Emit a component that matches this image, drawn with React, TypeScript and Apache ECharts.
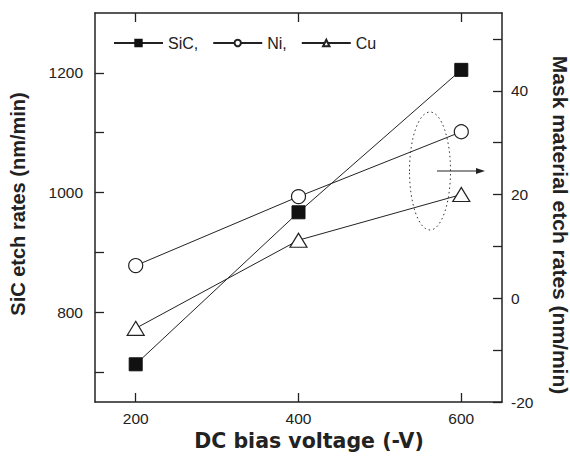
import React, { useEffect, useRef } from "react";
import * as echarts from "echarts";

const biasVoltages = [200, 400, 600];
const sicRates = [713, 967, 1205];
const niRates = [6.3, 19.6, 32.1];
const cuRates = [-5.8, 11.2, 20.0];

const xTicks = [200, 400, 600];
const leftTicks = [700, 800, 900, 1000, 1100, 1200];
const leftLabels = [800, 1000, 1200];
const rightTicks = [-20, -10, 0, 10, 20, 30, 40, 50];
const rightLabels = [-20, 0, 20, 40];

const xTitle = "DC bias voltage (-V)";
const leftTitle = "SiC etch rates (nm/min)";
const rightTitle = "Mask material etch rates (nm/min)";

const FONT = "'Liberation Sans', Arial, Helvetica, sans-serif";
const INK = "#222";

export default function App() {
  const ref = useRef<HTMLDivElement>(null);
  useEffect(() => {
    if (!ref.current) return;
    const chart = echarts.init(ref.current, undefined, { renderer: "svg" });
    const axisLine = { show: true, onZero: false, lineStyle: { color: INK, width: 1.5 } };
    const tick = (vals: number[]) => ({
      show: true,
      inside: true,
      length: 9,
      customValues: vals,
      lineStyle: { color: INK, width: 1.3 },
    });
    const label = (vals: number[], margin: number) => ({
      show: true,
      customValues: vals,
      margin,
      color: INK,
      fontSize: 15.5,
      fontFamily: FONT,
      formatter: (v: number) => String(v),
    });
    const toPairs = (ys: number[]) => biasVoltages.map((x, i) => [x, ys[i]]);
    const titleStyle = (size: number, family = FONT) => ({
      fill: INK,
      font: `bold ${size}px ${family}`,
      align: "center",
      verticalAlign: "middle",
    });
    chart.setOption({
      animation: false,
      textStyle: { fontFamily: FONT },
      grid: { left: 95, right: 68, top: 13, bottom: 59, containLabel: false },
      legend: {
        left: 108,
        top: 30,
        itemWidth: 49,
        itemHeight: 8,
        itemGap: 14,
        textStyle: { fontSize: 16, color: INK, fontFamily: FONT },
        data: ["SiC,", "Ni,", "Cu"],
      },
      xAxis: [
        {
          type: "value",
          min: 150,
          max: 650,
          position: "bottom",
          axisLine,
          axisTick: tick(xTicks),
          axisLabel: label(xTicks, 8),
          splitLine: { show: false },
        },
        {
          type: "value",
          min: 150,
          max: 650,
          position: "top",
          axisLine,
          axisTick: tick(xTicks),
          axisLabel: { show: false },
          splitLine: { show: false },
        },
      ],
      yAxis: [
        {
          type: "value",
          min: 650,
          max: 1300,
          position: "left",
          axisLine,
          axisTick: tick(leftTicks),
          axisLabel: label(leftLabels, 12),
          splitLine: { show: false },
        },
        {
          type: "value",
          min: -20,
          max: 55,
          position: "right",
          axisLine,
          axisTick: tick(rightTicks),
          axisLabel: label(rightLabels, 9),
          splitLine: { show: false },
        },
      ],
      series: [
        {
          name: "SiC,",
          type: "line",
          xAxisIndex: 0,
          yAxisIndex: 0,
          data: toPairs(sicRates),
          symbol: "rect",
          symbolSize: 13,
          lineStyle: { color: INK, width: 1 },
          itemStyle: { color: "#111", borderColor: "#111", borderWidth: 1 },
        },
        {
          name: "Ni,",
          type: "line",
          xAxisIndex: 0,
          yAxisIndex: 1,
          data: toPairs(niRates),
          symbol: "circle",
          symbolSize: 14,
          showAllSymbol: true,
          lineStyle: { color: INK, width: 1 },
          itemStyle: { color: "#fff", borderColor: INK, borderWidth: 1.2 },
        },
        {
          name: "Cu",
          type: "line",
          xAxisIndex: 0,
          yAxisIndex: 1,
          data: toPairs(cuRates),
          symbol: "triangle",
          symbolSize: [17, 14],
          lineStyle: { color: INK, width: 1 },
          itemStyle: { color: "#fff", borderColor: INK, borderWidth: 1.2 },
        },
      ],
      graphic: [
        {
          type: "text",
          x: 309,
          y: 441,
          style: { text: xTitle, ...titleStyle(20.5, "'DejaVu Sans', sans-serif") },
        },
        {
          type: "text",
          x: 18,
          y: 204,
          rotation: Math.PI / 2,
          style: { text: leftTitle, ...titleStyle(20) },
        },
        {
          type: "text",
          x: 560,
          y: 225,
          rotation: -Math.PI / 2,
          style: { text: rightTitle, ...titleStyle(21) },
        },
        {
          type: "ellipse",
          shape: { cx: 430, cy: 171, rx: 20.5, ry: 59 },
          style: { fill: "none", stroke: "#333", lineWidth: 1, lineDash: [1.5, 3] },
          z: 10,
        },
        {
          type: "line",
          shape: { x1: 437, y1: 171, x2: 478, y2: 171 },
          style: { stroke: INK, lineWidth: 1 },
          z: 10,
        },
        {
          type: "polygon",
          shape: { points: [[485, 171], [476, 168], [476, 174]] },
          style: { fill: INK },
          z: 10,
        },
      ],
    });
    return () => chart.dispose();
  }, []);
  return (
    <div
      ref={ref}
      style={{ position: "absolute", left: 0, top: 0, width: 570, height: 461 }}
    />
  );
}
